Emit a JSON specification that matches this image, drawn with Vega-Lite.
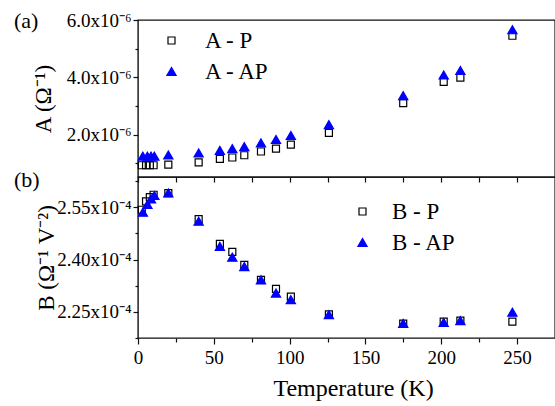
{
  "$schema": "https://vega.github.io/schema/vega-lite/v6.json",
  "padding": {"left": 13, "top": 9, "right": 0, "bottom": 0},
  "background": "white",
  "spacing": 0,
  "bounds": "flush",
  "config": {
    "font": "Liberation Serif",
    "view": {"stroke": "#111111", "strokeWidth": 1.4},
    "axis": {
      "labelFont": "Liberation Serif", "titleFont": "Liberation Serif",
      "labelFontSize": 19, "titleFontSize": 23, "titleFontWeight": "normal",
      "labelColor": "black", "titleColor": "black", "tickColor": "#111111",
      "domain": false, "grid": false, "tickWidth": 1.2,
      "labelOverlap": false, "labelFlush": false, "labelBound": false
    },
    "legend": {"labelFont": "Liberation Serif"},
    "title": {"font": "Liberation Serif", "fontWeight": "normal", "fontSize": 22, "color": "black"}
  },
  "resolve": {
    "scale": {"shape": "independent", "fill": "independent", "stroke": "independent", "size": "independent", "y": "independent"},
    "legend": {"shape": "independent", "fill": "independent", "stroke": "independent", "size": "independent"}
  },
  "vconcat": [
    {
      "width": 417,
      "height": 157,
      "title": {"text": "(a)", "anchor": "start", "frame": "group", "dx": -124, "dy": 31, "offset": -1, "baseline": "middle"},
      "data": {"values": [
        {"T": 2.5, "A": 9.3e-7, "series": "A - P"},
        {"T": 5.3, "A": 9.3e-7, "series": "A - P"},
        {"T": 7.8, "A": 9.3e-7, "series": "A - P"},
        {"T": 10.3, "A": 9.3e-7, "series": "A - P"},
        {"T": 20.0, "A": 9.5e-7, "series": "A - P"},
        {"T": 40.0, "A": 1.03e-6, "series": "A - P"},
        {"T": 54.0, "A": 1.15e-6, "series": "A - P"},
        {"T": 62.2, "A": 1.20e-6, "series": "A - P"},
        {"T": 70.1, "A": 1.28e-6, "series": "A - P"},
        {"T": 81.1, "A": 1.41e-6, "series": "A - P"},
        {"T": 91.0, "A": 1.51e-6, "series": "A - P"},
        {"T": 100.8, "A": 1.65e-6, "series": "A - P"},
        {"T": 125.9, "A": 2.06e-6, "series": "A - P"},
        {"T": 174.9, "A": 3.10e-6, "series": "A - P"},
        {"T": 201.6, "A": 3.84e-6, "series": "A - P"},
        {"T": 212.6, "A": 3.99e-6, "series": "A - P"},
        {"T": 246.9, "A": 5.45e-6, "series": "A - P"},
        {"T": 3.2, "A": 1.25e-6, "series": "A - AP"},
        {"T": 6.2, "A": 1.25e-6, "series": "A - AP"},
        {"T": 8.6, "A": 1.25e-6, "series": "A - AP"},
        {"T": 10.8, "A": 1.25e-6, "series": "A - AP"},
        {"T": 20.0, "A": 1.29e-6, "series": "A - AP"},
        {"T": 40.0, "A": 1.36e-6, "series": "A - AP"},
        {"T": 54.0, "A": 1.45e-6, "series": "A - AP"},
        {"T": 62.2, "A": 1.51e-6, "series": "A - AP"},
        {"T": 70.1, "A": 1.58e-6, "series": "A - AP"},
        {"T": 81.1, "A": 1.71e-6, "series": "A - AP"},
        {"T": 91.0, "A": 1.83e-6, "series": "A - AP"},
        {"T": 100.8, "A": 1.97e-6, "series": "A - AP"},
        {"T": 125.9, "A": 2.35e-6, "series": "A - AP"},
        {"T": 174.9, "A": 3.36e-6, "series": "A - AP"},
        {"T": 201.6, "A": 4.08e-6, "series": "A - AP"},
        {"T": 212.6, "A": 4.24e-6, "series": "A - AP"},
        {"T": 246.9, "A": 5.66e-6, "series": "A - AP"}
      ]},
      "mark": {"type": "point", "opacity": 1, "strokeWidth": 1.2},
      "encoding": {
        "x": {
          "field": "T", "type": "quantitative",
          "scale": {"domain": [0, 275], "nice": false, "zero": false},
          "axis": {"values": [0, 25, 50, 75, 100, 125, 150, 175, 200, 225, 250], "labels": false, "title": null, "tickSize": 5}
        },
        "y": {
          "field": "A", "type": "quantitative",
          "scale": {"domain": [5.2e-7, 6.0e-6], "nice": false, "zero": false},
          "axis": {
            "values": [1e-6, 2e-6, 3e-6, 4e-6, 5e-6, 6e-6],
            "labelExpr": "round(datum.value*1e6) % 2 == 0 ? format(datum.value*1e6, '.1f') + 'x10⁻⁶' : ''",
            "tickSize": {"condition": {"test": "round(datum.value*1e6) % 2 == 0", "value": 5}, "value": 3},
            "labelPadding": 2, "labelBaseline": "middle",
            "title": "A (Ω⁻¹)", "titleX": -95, "titleY": 78.5, "titleBaseline": "middle", "titleAngle": -90
          }
        },
        "shape": {
          "field": "series", "type": "nominal",
          "scale": {"domain": ["A - P", "A - AP"], "range": ["square", "triangle-up"]},
          "legend": {"orient": "none", "legendX": 22, "legendY": 9, "title": null, "labelFontSize": 23, "labelColor": "black", "labelOffset": 22, "rowPadding": 7, "padding": 0, "symbolStrokeWidth": 1.2, "symbolOpacity": 1}
        },
        "fill": {"field": "series", "type": "nominal", "scale": {"domain": ["A - P", "A - AP"], "range": ["transparent", "#0000ff"]}},
        "stroke": {"field": "series", "type": "nominal", "scale": {"domain": ["A - P", "A - AP"], "range": ["#000000", "#0000ff"]}},
        "size": {"field": "series", "type": "nominal", "scale": {"domain": ["A - P", "A - AP"], "range": [49, 85]}}
      }
    },
    {
      "width": 417,
      "height": 161,
      "title": {"text": "(b)", "anchor": "start", "frame": "group", "dx": -124, "dy": 25, "offset": -5, "baseline": "middle"},
      "data": {"values": [
        {"T": 2.5, "B": 2.543e-4, "series": "B - P"},
        {"T": 5.3, "B": 2.567e-4, "series": "B - P"},
        {"T": 7.8, "B": 2.579e-4, "series": "B - P"},
        {"T": 10.3, "B": 2.586e-4, "series": "B - P"},
        {"T": 20.0, "B": 2.591e-4, "series": "B - P"},
        {"T": 40.0, "B": 2.516e-4, "series": "B - P"},
        {"T": 54.0, "B": 2.445e-4, "series": "B - P"},
        {"T": 62.2, "B": 2.422e-4, "series": "B - P"},
        {"T": 70.1, "B": 2.385e-4, "series": "B - P"},
        {"T": 81.1, "B": 2.342e-4, "series": "B - P"},
        {"T": 91.0, "B": 2.316e-4, "series": "B - P"},
        {"T": 100.8, "B": 2.294e-4, "series": "B - P"},
        {"T": 125.9, "B": 2.243e-4, "series": "B - P"},
        {"T": 174.9, "B": 2.216e-4, "series": "B - P"},
        {"T": 201.6, "B": 2.222e-4, "series": "B - P"},
        {"T": 212.6, "B": 2.225e-4, "series": "B - P"},
        {"T": 246.9, "B": 2.222e-4, "series": "B - P"},
        {"T": 3.2, "B": 2.536e-4, "series": "B - AP"},
        {"T": 6.2, "B": 2.558e-4, "series": "B - AP"},
        {"T": 8.6, "B": 2.574e-4, "series": "B - AP"},
        {"T": 10.8, "B": 2.584e-4, "series": "B - AP"},
        {"T": 20.0, "B": 2.591e-4, "series": "B - AP"},
        {"T": 40.0, "B": 2.510e-4, "series": "B - AP"},
        {"T": 54.0, "B": 2.438e-4, "series": "B - AP"},
        {"T": 62.2, "B": 2.407e-4, "series": "B - AP"},
        {"T": 70.1, "B": 2.380e-4, "series": "B - AP"},
        {"T": 81.1, "B": 2.342e-4, "series": "B - AP"},
        {"T": 91.0, "B": 2.304e-4, "series": "B - AP"},
        {"T": 100.8, "B": 2.285e-4, "series": "B - AP"},
        {"T": 125.9, "B": 2.242e-4, "series": "B - AP"},
        {"T": 174.9, "B": 2.217e-4, "series": "B - AP"},
        {"T": 201.6, "B": 2.220e-4, "series": "B - AP"},
        {"T": 212.6, "B": 2.225e-4, "series": "B - AP"},
        {"T": 246.9, "B": 2.249e-4, "series": "B - AP"}
      ]},
      "mark": {"type": "point", "opacity": 1, "strokeWidth": 1.2},
      "encoding": {
        "x": {
          "field": "T", "type": "quantitative",
          "scale": {"domain": [0, 275], "nice": false, "zero": false},
          "axis": {
            "values": [0, 25, 50, 75, 100, 125, 150, 175, 200, 225, 250],
            "labelExpr": "datum.value % 50 == 0 ? datum.label : ''",
            "tickSize": {"condition": {"test": "datum.value % 50 == 0", "value": 6}, "value": 4},
            "labelPadding": 4,
            "title": "Temperature (K)", "titleFontSize": 24, "titleX": 215, "titleY": 57, "titleBaseline": "alphabetic"
          }
        },
        "y": {
          "field": "B", "type": "quantitative",
          "scale": {"domain": [2.175e-4, 2.637e-4], "nice": false, "zero": false},
          "axis": {
            "values": [2.175e-4, 2.25e-4, 2.325e-4, 2.40e-4, 2.475e-4, 2.55e-4, 2.625e-4],
            "labelExpr": "round(datum.value*1e4/0.075) % 2 == 0 ? format(datum.value*1e4, '.2f') + 'x10⁻⁴' : ''",
            "tickSize": {"condition": {"test": "round(datum.value*1e4/0.075) % 2 == 0", "value": 5}, "value": 3},
            "labelPadding": 2, "labelBaseline": "middle",
            "title": "B (Ω⁻¹ V⁻²)", "titleX": -92, "titleY": 80.5, "titleBaseline": "middle", "titleAngle": -90
          }
        },
        "shape": {
          "field": "series", "type": "nominal",
          "scale": {"domain": ["B - P", "B - AP"], "range": ["square", "triangle-up"]},
          "legend": {"orient": "none", "legendX": 213, "legendY": 23, "title": null, "labelFontSize": 23, "labelColor": "black", "labelOffset": 18, "rowPadding": 7, "padding": 0, "symbolStrokeWidth": 1.2, "symbolOpacity": 1}
        },
        "fill": {"field": "series", "type": "nominal", "scale": {"domain": ["B - P", "B - AP"], "range": ["transparent", "#0000ff"]}},
        "stroke": {"field": "series", "type": "nominal", "scale": {"domain": ["B - P", "B - AP"], "range": ["#000000", "#0000ff"]}},
        "size": {"field": "series", "type": "nominal", "scale": {"domain": ["B - P", "B - AP"], "range": [49, 85]}}
      }
    }
  ]
}
